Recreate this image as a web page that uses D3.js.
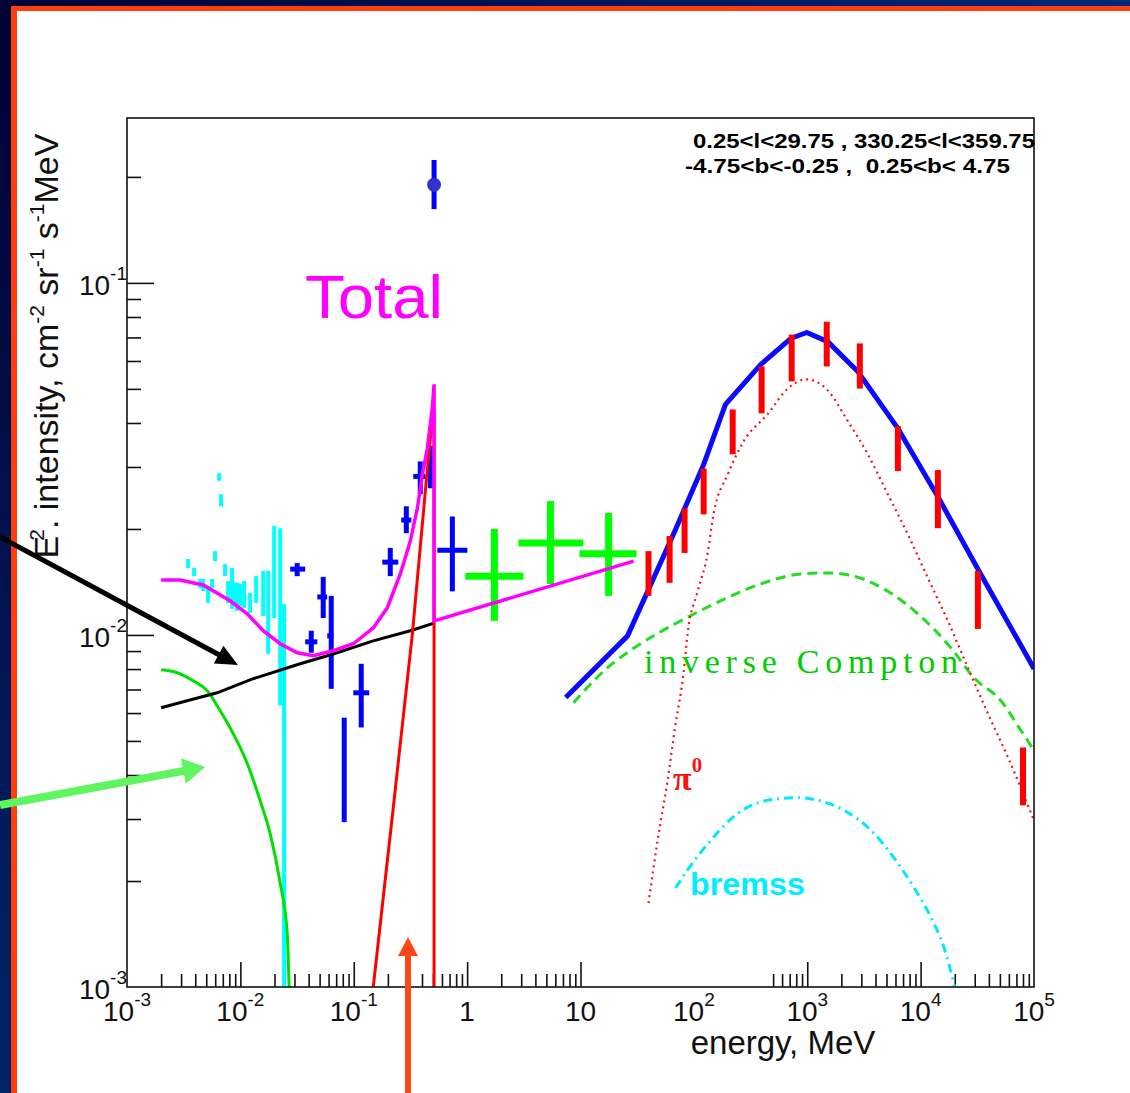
<!DOCTYPE html>
<html><head><meta charset="utf-8">
<script src="https://cdn.jsdelivr.net/npm/d3@7"></script>
<style>
body{margin:0;background:#fff}
svg{display:block}
text{font-family:"Liberation Sans",Arial,Helvetica,sans-serif}
</style>
</head><body>
<svg id="c" width="1130" height="1093"></svg>
<script>
// ---------------- DATA ----------------
// Total model (blue, high energy)
const modelE = [7.4, 26, 66.2, 122, 190, 388, 714, 989, 1516, 2790, 6300, 14500, 32700, 1e5];
const modelI = [6.64e-3, 9.94e-3, 0.01934, 0.0305, 0.0452, 0.0586, 0.0695, 0.0723, 0.0681, 0.0560, 0.0386, 0.0244, 0.0152, 8.02e-3];
// pi0 decay (red dotted)
const pi0E = [39.8, 47.9, 58.6, 69, 81, 88, 108, 132, 149, 199, 275, 448, 673, 990, 1517, 2280, 3420, 5140, 7710, 11600, 17400, 26100, 39300, 58900, 1e5];
const pi0I = [1.73e-3, 2.61e-3, 3.86e-3, 5.6e-3, 7.76e-3, 0.01007, 0.0133, 0.0170, 0.0220, 0.0286, 0.0355, 0.0424, 0.0501, 0.0532, 0.0495, 0.0405, 0.0326, 0.0251, 0.0193, 0.0145, 0.01096, 8.07e-3, 5.97e-3, 4.49e-3, 2.97e-3];
// inverse Compton (green dashed)
const icE = [8.67, 17.3, 33.9, 76.4, 172, 388, 877, 1517, 2575, 5140, 9460, 18500, 29500, 51100, 76800, 1e5];
const icI = [6.42e-3, 8.07e-3, 9.44e-3, 0.01096, 0.0125, 0.01396, 0.0149, 0.0150, 0.01469, 0.0133, 0.01148, 9.19e-3, 7.56e-3, 6.50e-3, 5.35e-3, 4.70e-3];
// bremsstrahlung (cyan dash-dot)
const bremE = [69, 88, 141, 243, 448, 824, 1140, 2100, 3640, 5800, 8710, 12300, 16000, 20000];
const bremI = [1.91e-3, 2.15e-3, 2.61e-3, 3.11e-3, 3.39e-3, 3.45e-3, 3.41e-3, 3.18e-3, 2.79e-3, 2.33e-3, 1.92e-3, 1.58e-3, 1.30e-3, 1.0e-3];
// Total (magenta, low energy)
const totalE = [2.0e-3, 2.94e-3, 4.69e-3, 8.12e-3, 0.01148, 0.0159, 0.02245, 0.0317, 0.0439, 0.0659, 0.0991, 0.1486, 0.1977, 0.2575, 0.3156, 0.364, 0.403, 0.446, 0.493, 0.511, 0.511, 29.4];
const totalI = [0.01432, 0.01432, 0.01387, 0.0125, 0.01148, 0.01028, 9.44e-3, 8.90e-3, 8.73e-3, 9.02e-3, 9.44e-3, 0.01047, 0.01194, 0.0149, 0.0185, 0.0229, 0.0286, 0.0339, 0.0441, 0.0515, 0.01096, 0.0162];
// black component
const blackE = [2.0e-3, 3.39e-3, 6.24e-3, 0.01297, 0.0337, 0.0659, 0.1486, 0.3156, 0.511];
const blackI = [6.21e-3, 6.50e-3, 6.85e-3, 7.51e-3, 8.28e-3, 8.83e-3, 9.62e-3, 0.01028, 0.0108];
// green solid component
const greenLineE = [2.0e-3, 2.77e-3, 3.83e-3, 5.08e-3, 6.62e-3, 8.63e-3, 0.01148, 0.0149, 0.0183, 0.02245, 0.0259, 0.0269];
const greenLineI = [7.96e-3, 7.81e-3, 7.41e-3, 6.95e-3, 6.10e-3, 5.25e-3, 4.32e-3, 3.39e-3, 2.73e-3, 1.97e-3, 1.42e-3, 1.0e-3];
// positron annihilation (red solid)
const annE = [0.1486, 0.2234, 0.329, 0.428, 0.493, 0.511, 0.511];
const annI = [1e-3, 3.24e-3, 0.01007, 0.0256, 0.0412, 0.0418, 1e-3];

// cyan data (low energy)
const cyanE   = [3.46e-3, 3.91e-3, 4.42e-3, 4.69e-3, 5.19e-3, 5.63e-3, 5.98e-3, 6.49e-3, 6.76e-3, 7.33e-3, 7.80e-3, 8.45e-3, 8.81e-3, 9.36e-3, 9.95e-3, 0.01079, 0.01219, 0.01377, 0.0159, 0.01758, 0.01986, 0.02245, 0.0243];
const cyanIlo = [0.0155, 0.01469, 0.01359, 0.01333, 0.01233, 0.01359, 0.0162, 0.0274, 0.0232, 0.01469, 0.01233, 0.01186, 0.01208, 0.0117, 0.01208, 0.01194, 0.01155, 0.01233, 0.01132, 8.83e-3, 0.01117, 6.30e-3, 1.0e-3];
const cyanIhi = [0.01644, 0.0155, 0.01442, 0.01442, 0.01377, 0.01442, 0.0173, 0.0288, 0.0251, 0.01589, 0.01422, 0.0155, 0.01406, 0.01406, 0.01397, 0.01422, 0.01315, 0.01469, 0.0152, 0.0152, 0.0204, 0.0201, 0.01225];

// blue data crosses
const blueE   = [0.0317, 0.0422, 0.0538, 0.0633, 0.0824, 0.1164, 0.21, 0.291, 0.386, 0.4737, 0.741];
const blueElo = [0.0275, 0.0373, 0.0477, 0.0583, 0.0824, 0.0991, 0.1786, 0.2624, 0.335, 0.446, 0.546];
const blueEhi = [0.0373, 0.0477, 0.0583, 0.066, 0.0824, 0.137, 0.247, 0.322, 0.428, 0.50, 1.005];
const blueI   = [0.01538, 9.56e-3, 0.01282, 9.94e-3, 4.12e-3, 6.85e-3, 0.0161, 0.0212, 0.0282, 0.0311, 0.0174];
const blueIlo = [0.01469, 8.90e-3, 0.01117, 7.03e-3, 2.94e-3, 5.46e-3, 0.01469, 0.01945, 0.0251, 0.0261, 0.0133];
const blueIhi = [0.0160, 0.01028, 0.01462, 0.01291, 5.82e-3, 8.28e-3, 0.01767, 0.0232, 0.0311, 0.0344, 0.0217];
// 511 keV line point
const lineE = [0.511], lineI = [0.190], lineIlo = [0.162], lineIhi = [0.2234];

// green data crosses (COMPTEL)
const compE   = [1.74, 5.43, 17.7];
const compElo = [0.965, 2.835, 9.79];
const compEhi = [3.14, 10.6, 31.2];
const compI   = [0.01469, 0.01824, 0.0170];
const compIlo = [0.01096, 0.01396, 0.01291];
const compIhi = [0.0200, 0.0240, 0.0222];

// red data bars (EGRET)
const egretE   = [39.8, 61.1, 82.8, 122, 220, 396, 729, 1486, 2910, 6300, 14200, 32000, 80000];
const egretIlo = [0.01291, 0.01406, 0.0171, 0.0220, 0.0326, 0.0426, 0.0525, 0.0579, 0.0501, 0.0292, 0.0201, 0.0104, 3.28e-3];
const egretIhi = [0.0173, 0.0191, 0.0229, 0.0297, 0.0437, 0.0579, 0.0713, 0.0776, 0.0673, 0.0392, 0.0294, 0.0152, 4.79e-3];

// axis ticks
const xTickVals = [1e-3, 1e-2, 1e-1, 1, 10, 1e2, 1e3, 1e4, 1e5];
const xTickBase = ["10", "10", "10", "1", "10", "10", "10", "10", "10"];
const xTickExp  = ["-3", "-2", "-1", "", "", "2", "3", "4", "5"];
const xMajorDrawn = [1e-2, 1e-1, 1, 10, 1e3, 1e4];
const xHiddenMinor = [20, 30, 40, 50, 60, 70, 80, 90, 200, 300, 400];
const yTickVals = [1e-3, 1e-2, 1e-1];
const yTickExp  = ["-3", "-2", "-1"];

// ---------------- DRAW ----------------
const svg = d3.select("#c");
const W = 1130, H = 1093;
const L = 127, R = 1034, T = 118, B = 987;
const x = d3.scaleLog().domain([1e-3, 1e5]).range([L, R]);
const y = d3.scaleLog().domain([1e-3, 0.294]).range([B, T]);

const defs = svg.append("defs");
const gTop = defs.append("linearGradient").attr("id", "gTop").attr("x1", 0).attr("x2", 1).attr("y1", 0).attr("y2", 0);
gTop.append("stop").attr("offset", 0).attr("stop-color", "#000033");
gTop.append("stop").attr("offset", 1).attr("stop-color", "#00297c");
const gLeft = defs.append("linearGradient").attr("id", "gLeft").attr("x1", 0).attr("x2", 0).attr("y1", 0).attr("y2", 1);
gLeft.append("stop").attr("offset", 0).attr("stop-color", "#000033");
gLeft.append("stop").attr("offset", 1).attr("stop-color", "#002468");
defs.append("clipPath").attr("id", "plotClip").append("rect").attr("x", L).attr("y", T).attr("width", R - L).attr("height", B - T);

svg.append("rect").attr("width", W).attr("height", H).attr("fill", "#fff");
svg.append("rect").attr("x", 0).attr("y", 0).attr("width", W).attr("height", 6).attr("fill", "url(#gTop)");
svg.append("rect").attr("x", 0).attr("y", 0).attr("width", 11).attr("height", H).attr("fill", "url(#gLeft)");
svg.append("rect").attr("x", 11).attr("y", 6).attr("width", W - 11).attr("height", 5).attr("fill", "#ff3d0f");
svg.append("rect").attr("x", 11).attr("y", 6).attr("width", 6).attr("height", H - 6).attr("fill", "#ff3d0f");

// axes ticks
function decadeMinor(lo, hi) {
  const out = [];
  for (let d = lo; d < hi; d++) for (let m = 2; m <= 9; m++) out.push(+(m * Math.pow(10, d)).toPrecision(3));
  return out;
}
const xMinor = decadeMinor(-3, 5).filter(v => !xHiddenMinor.some(h => Math.abs(h - v) / h < 1e-6));
const yMinor = decadeMinor(-3, -1).concat([0.2]);

const gAx = svg.append("g").attr("stroke-width", 1.5);
gAx.append("g").attr("transform", `translate(0,${B})`)
  .call(d3.axisBottom(x).tickValues(xMinor).tickSizeInner(-13).tickSizeOuter(0).tickFormat(""));
gAx.append("g").attr("transform", `translate(0,${B})`)
  .call(d3.axisBottom(x).tickValues(xMajorDrawn).tickSizeInner(-25).tickSizeOuter(0).tickFormat(""));
gAx.append("g").attr("transform", `translate(${L},0)`)
  .call(d3.axisLeft(y).tickValues(yMinor).tickSizeInner(-14).tickSizeOuter(0).tickFormat(""));
gAx.append("g").attr("transform", `translate(${L},0)`)
  .call(d3.axisLeft(y).tickValues([1e-2, 1e-1]).tickSizeInner(-27).tickSizeOuter(0).tickFormat(""));
gAx.selectAll(".domain").remove();
gAx.selectAll(".tick line").attr("stroke", "#111").attr("stroke-width", 1.6);

// tick labels
const xl = svg.append("g");
xTickVals.forEach((v, i) => {
  const t = xl.append("text").attr("x", x(v)).attr("y", 1021).attr("text-anchor", "middle").attr("fill", "#111");
  t.append("tspan").attr("font-size", 28).text(xTickBase[i]);
  if (xTickExp[i]) t.append("tspan").attr("font-size", 19).attr("dy", -15).text(xTickExp[i]);
});
yTickVals.forEach((v, i) => {
  const t = xl.append("text").attr("x", 127).attr("y", y(v) + 12).attr("text-anchor", "end").attr("fill", "#111");
  t.append("tspan").attr("font-size", 28).text("10");
  t.append("tspan").attr("font-size", 19).attr("dy", -15).text(yTickExp[i]);
});

// axis titles
svg.append("text").attr("x", 783).attr("y", 1054).attr("text-anchor", "middle")
  .attr("font-size", 33).attr("fill", "#111").text("energy, MeV");
const yt = svg.append("text").attr("transform", "translate(58,346) rotate(-90)").attr("text-anchor", "middle")
  .attr("font-size", 34).attr("fill", "#111");
[["E", 0, 34], ["2", -14, 21], [". intensity, cm", 14, 34], ["-2", -14, 21], [" sr", 14, 34], ["-1", -14, 21],
 [" s", 14, 34], ["-1", -14, 21], ["MeV", 14, 34]].forEach(([s, dy, fs], i) => {
  const sp = yt.append("tspan").attr("font-size", fs).attr("dy", dy).text(s);
  if (i === 1) sp.attr("dx", -5);
});

// plot content
const P = svg.append("g").attr("clip-path", "url(#plotClip)");
const lineGen = (c) => d3.line().x(d => x(d[0])).y(d => y(d[1])).curve(c || d3.curveLinear);

// cyan data
P.append("g").selectAll("line").data(d3.range(cyanE.length)).join("line")
  .attr("x1", i => x(cyanE[i])).attr("x2", i => x(cyanE[i]))
  .attr("y1", i => y(cyanIlo[i])).attr("y2", i => y(cyanIhi[i]))
  .attr("stroke", "#00ffff").attr("stroke-width", 4);

// blue crosses
const gb = P.append("g").attr("stroke", "#0000ff").attr("stroke-width", 5);
d3.range(blueE.length).forEach(i => {
  gb.append("line").attr("x1", x(blueE[i])).attr("x2", x(blueE[i])).attr("y1", y(blueIlo[i])).attr("y2", y(blueIhi[i]));
  if (blueEhi[i] > blueElo[i]) gb.append("line").attr("x1", x(blueElo[i])).attr("x2", x(blueEhi[i])).attr("y1", y(blueI[i])).attr("y2", y(blueI[i]));
});

// green crosses
const gc = P.append("g").attr("stroke", "#00ff00").attr("stroke-width", 7);
d3.range(compE.length).forEach(i => {
  gc.append("line").attr("x1", x(compE[i])).attr("x2", x(compE[i])).attr("y1", y(compIlo[i])).attr("y2", y(compIhi[i]));
  gc.append("line").attr("x1", x(compElo[i])).attr("x2", x(compEhi[i])).attr("y1", y(compI[i])).attr("y2", y(compI[i]));
});

// model curves
P.append("path").attr("d", lineGen(d3.curveMonotoneX)(d3.zip(greenLineE, greenLineI))).attr("fill", "none").attr("stroke", "#00e000").attr("stroke-width", 3);
P.append("path").attr("d", lineGen()(d3.zip(blackE, blackI))).attr("fill", "none").attr("stroke", "#000").attr("stroke-width", 3);
P.append("path").attr("d", lineGen()(d3.zip(annE, annI))).attr("fill", "none").attr("stroke", "#ff0000").attr("stroke-width", 3);
P.append("path").attr("d", lineGen()(d3.zip(totalE, totalI))).attr("fill", "none").attr("stroke", "#ff00ff").attr("stroke-width", 3.5);
P.append("path").attr("d", lineGen(d3.curveMonotoneX)(d3.zip(icE, icI))).attr("fill", "none").attr("stroke", "#22dd22").attr("stroke-width", 3).attr("stroke-dasharray", "10,6");
P.append("path").attr("d", lineGen(d3.curveMonotoneX)(d3.zip(bremE, bremI))).attr("fill", "none").attr("stroke", "#00e8ff").attr("stroke-width", 3).attr("stroke-dasharray", "9,5,2,5");
P.append("path").attr("d", lineGen(d3.curveMonotoneX)(d3.zip(pi0E, pi0I))).attr("fill", "none").attr("stroke", "#ff1010").attr("stroke-width", 2.2).attr("stroke-dasharray", "2,4");
P.append("path").attr("d", lineGen()(d3.zip(modelE, modelI))).attr("fill", "none").attr("stroke", "#0a0aff").attr("stroke-width", 5).attr("stroke-linejoin", "round");

// EGRET red bars
P.append("g").selectAll("line").data(d3.range(egretE.length)).join("line")
  .attr("x1", i => x(egretE[i])).attr("x2", i => x(egretE[i]))
  .attr("y1", i => y(egretIlo[i])).attr("y2", i => y(egretIhi[i]))
  .attr("stroke", "#ff0000").attr("stroke-width", 6);

// 511 keV line point
const gl = P.append("g");
gl.selectAll("line").data(lineE).join("line")
  .attr("x1", (d) => x(d)).attr("x2", d => x(d))
  .attr("y1", (d, i) => y(lineIlo[i])).attr("y2", (d, i) => y(lineIhi[i]))
  .attr("stroke", "#0000ff").attr("stroke-width", 5);
gl.selectAll("circle").data(lineE).join("circle")
  .attr("cx", d => x(d)).attr("cy", (d, i) => y(lineI[i])).attr("r", 7).attr("fill", "#3333cc");

// frame
svg.append("rect").attr("x", L).attr("y", T).attr("width", R - L).attr("height", B - T)
  .attr("fill", "none").attr("stroke", "#111").attr("stroke-width", 1.6);

// labels
svg.append("text").attr("x", 693).attr("y", 148).attr("font-size", 20).attr("font-weight", "bold")
  .attr("textLength", 342).attr("lengthAdjust", "spacingAndGlyphs").style("white-space", "pre")
  .text("0.25<l<29.75 , 330.25<l<359.75");
svg.append("text").attr("x", 685).attr("y", 173).attr("font-size", 20).attr("font-weight", "bold")
  .attr("textLength", 325).attr("lengthAdjust", "spacingAndGlyphs").style("white-space", "pre")
  .text("-4.75<b<-0.25 ,  0.25<b< 4.75");
svg.append("text").attr("x", 305).attr("y", 318).attr("font-size", 62).attr("fill", "#ff00ff")
  .attr("textLength", 138).attr("lengthAdjust", "spacingAndGlyphs").text("Total");
svg.append("text").attr("x", 644).attr("y", 673).attr("font-size", 34).attr("fill", "#00cc00")
  .style("font-family", "'Liberation Serif','Times New Roman',serif")
  .attr("textLength", 314).attr("lengthAdjust", "spacing").text("inverse Compton");
const pt = svg.append("text").attr("x", 673).attr("y", 790).attr("fill", "#ff1010").attr("font-weight", "bold")
  .style("font-family", "'Liberation Serif','Times New Roman',serif");
pt.append("tspan").attr("font-size", 34).text("π");
pt.append("tspan").attr("font-size", 21).attr("dy", -18).text("0");
svg.append("text").attr("x", 690).attr("y", 895).attr("font-size", 32).attr("font-weight", "bold").attr("fill", "#00eeff")
  .attr("textLength", 115).attr("lengthAdjust", "spacingAndGlyphs").text("bremss");

// annotation arrows
function arrow(x1, y1, x2, y2, color, w, hl, hw) {
  const dx = x2 - x1, dy = y2 - y1, len = Math.hypot(dx, dy), ux = dx / len, uy = dy / len;
  const bx = x2 - ux * hl, by = y2 - uy * hl;
  svg.append("line").attr("x1", x1).attr("y1", y1).attr("x2", bx + ux * 2).attr("y2", by + uy * 2)
    .attr("stroke", color).attr("stroke-width", w);
  svg.append("path").attr("d", `M${x2},${y2}L${bx - uy * hw},${by + ux * hw}L${bx + uy * hw},${by - ux * hw}Z`).attr("fill", color);
}
arrow(0, 537, 238, 665, "#000", 5, 22, 10);
arrow(0, 805, 205, 767, "#5ff55f", 8, 22, 13);
arrow(408, 1093, 408, 937, "#ff4614", 6, 19, 10);
</script>
</body></html>
